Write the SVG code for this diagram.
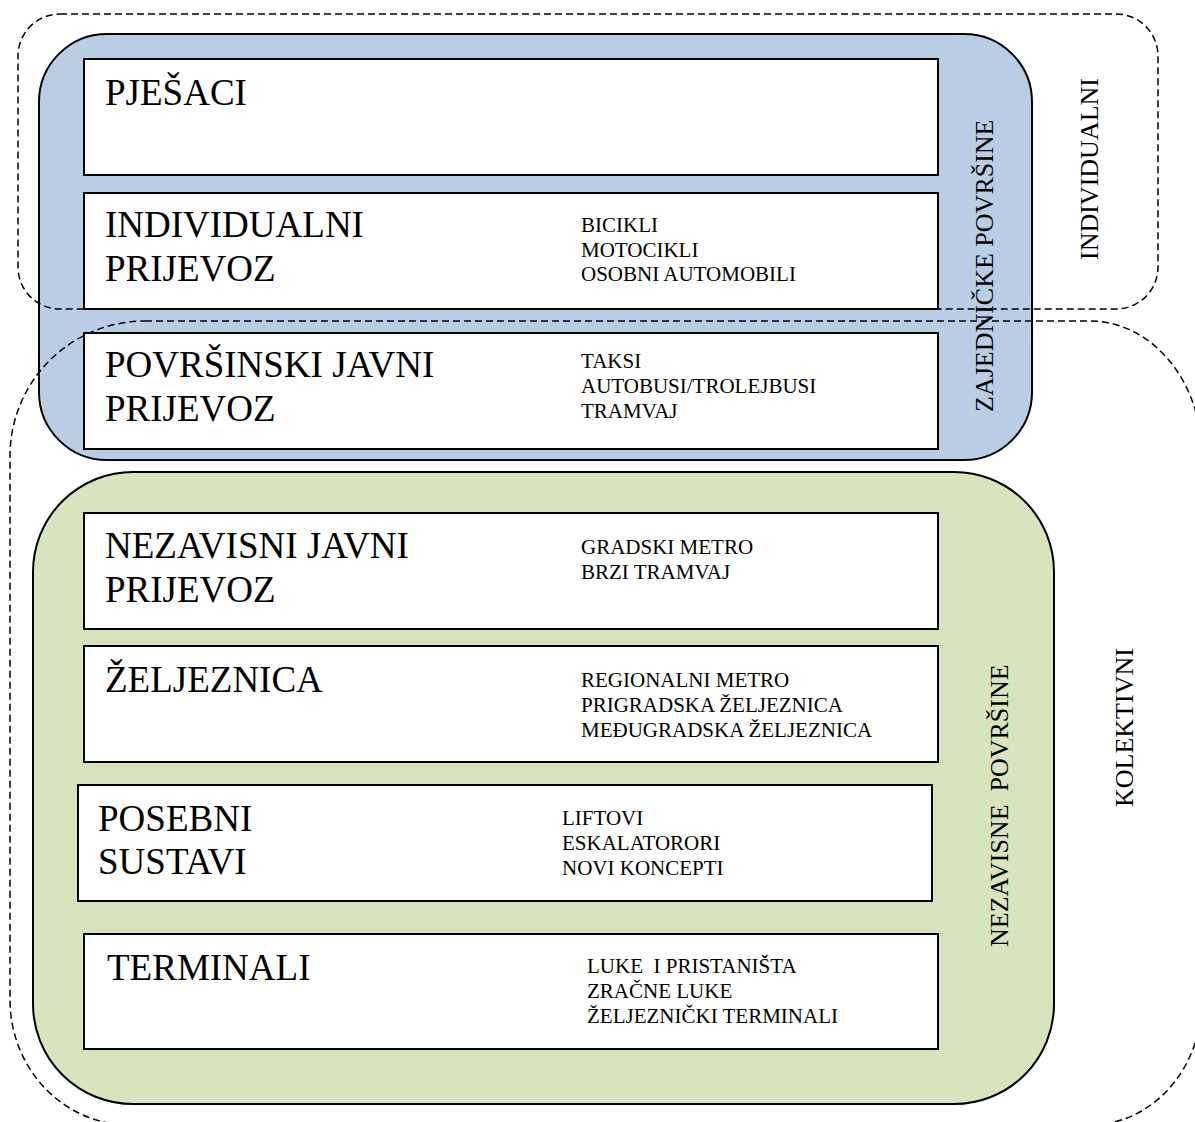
<svg xmlns="http://www.w3.org/2000/svg" width="1195" height="1122" viewBox="0 0 1195 1122">
<style>
.bg{fill:#ffffff}
.blue{fill:#B9CDE5;stroke:#000;stroke-width:2}
.green{fill:#D7E4BD;stroke:#000;stroke-width:2}
.box{fill:#ffffff;stroke:#000;stroke-width:2}
.dash{fill:none;stroke:#000;stroke-width:1.5;stroke-dasharray:7 4}
.t{font-family:"Liberation Serif","Times New Roman",serif;fill:#000}
.big{font-size:37px}
.sm{font-size:21px}
.vt{font-size:26px}
</style>
<rect class="bg" x="0" y="0" width="1195" height="1122"/>
<g id="group-shared">
  <rect class="blue" x="39" y="34" width="993" height="426" rx="68" ry="68"/>
  <text class="t vt" transform="translate(993,412) rotate(-90)">ZAJEDNIČKE POVRŠINE</text>
</g>
<g id="group-independent">
  <rect class="green" x="33" y="472" width="1021" height="632" rx="100" ry="100"/>
  <text class="t vt" xml:space="preserve" transform="translate(1008,947) rotate(-90)">NEZAVISNE  POVRŠINE</text>
</g>
<g id="connectors">
  <rect class="dash" x="18" y="14" width="1140" height="295" rx="42" ry="42"/>
  <path class="dash" d="M145,321 H1090 A112 135 0 0 1 1202 456 V1000 A112 125 0 0 1 1090 1125 H130 A120 125 0 0 1 10 1000 V456 A135 135 0 0 1 145 321 Z"/>
</g>
<g id="label-individualni">
  <text class="t vt" transform="translate(1098,260) rotate(-90)">INDIVIDUALNI</text>
</g>
<g id="label-kolektivni">
  <text class="t vt" transform="translate(1133,807) rotate(-90)">KOLEKTIVNI</text>
</g>
<g id="node-pjesaci">
  <rect class="box" x="84" y="59" width="854" height="116"/>
  <text class="t big" x="105" y="105">PJEŠACI</text>
</g>
<g id="node-individualni-prijevoz">
  <rect class="box" x="84" y="193" width="854" height="116"/>
  <text class="t big" x="105" y="237">INDIVIDUALNI</text>
  <text class="t big" x="105" y="281">PRIJEVOZ</text>
  <text class="t sm" x="581" y="232">BICIKLI</text>
  <text class="t sm" x="581" y="257">MOTOCIKLI</text>
  <text class="t sm" x="581" y="281">OSOBNI AUTOMOBILI</text>
</g>
<g id="node-povrsinski">
  <rect class="box" x="84" y="333" width="854" height="116"/>
  <text class="t big" x="105" y="377">POVRŠINSKI JAVNI</text>
  <text class="t big" x="105" y="421">PRIJEVOZ</text>
  <text class="t sm" x="581" y="368">TAKSI</text>
  <text class="t sm" x="581" y="393">AUTOBUSI/TROLEJBUSI</text>
  <text class="t sm" x="581" y="418">TRAMVAJ</text>
</g>
<g id="node-nezavisni">
  <rect class="box" x="84" y="513" width="854" height="116"/>
  <text class="t big" x="105" y="558">NEZAVISNI JAVNI</text>
  <text class="t big" x="105" y="602">PRIJEVOZ</text>
  <text class="t sm" x="581" y="554">GRADSKI METRO</text>
  <text class="t sm" x="581" y="579">BRZI TRAMVAJ</text>
</g>
<g id="node-zeljeznica">
  <rect class="box" x="84" y="646" width="854" height="116"/>
  <text class="t big" x="105" y="692">ŽELJEZNICA</text>
  <text class="t sm" x="581" y="687">REGIONALNI METRO</text>
  <text class="t sm" x="581" y="712">PRIGRADSKA ŽELJEZNICA</text>
  <text class="t sm" x="581" y="737">MEĐUGRADSKA ŽELJEZNICA</text>
</g>
<g id="node-posebni">
  <rect class="box" x="78" y="785" width="854" height="116"/>
  <text class="t big" x="98" y="831">POSEBNI</text>
  <text class="t big" x="98" y="874">SUSTAVI</text>
  <text class="t sm" x="562" y="825">LIFTOVI</text>
  <text class="t sm" x="562" y="850">ESKALATORORI</text>
  <text class="t sm" x="562" y="875">NOVI KONCEPTI</text>
</g>
<g id="node-terminali">
  <rect class="box" x="84" y="934" width="854" height="115"/>
  <text class="t big" x="107" y="980">TERMINALI</text>
  <text class="t sm" xml:space="preserve" x="587" y="973">LUKE  I PRISTANIŠTA</text>
  <text class="t sm" x="587" y="998">ZRAČNE LUKE</text>
  <text class="t sm" x="587" y="1023">ŽELJEZNIČKI TERMINALI</text>
</g>
</svg>
